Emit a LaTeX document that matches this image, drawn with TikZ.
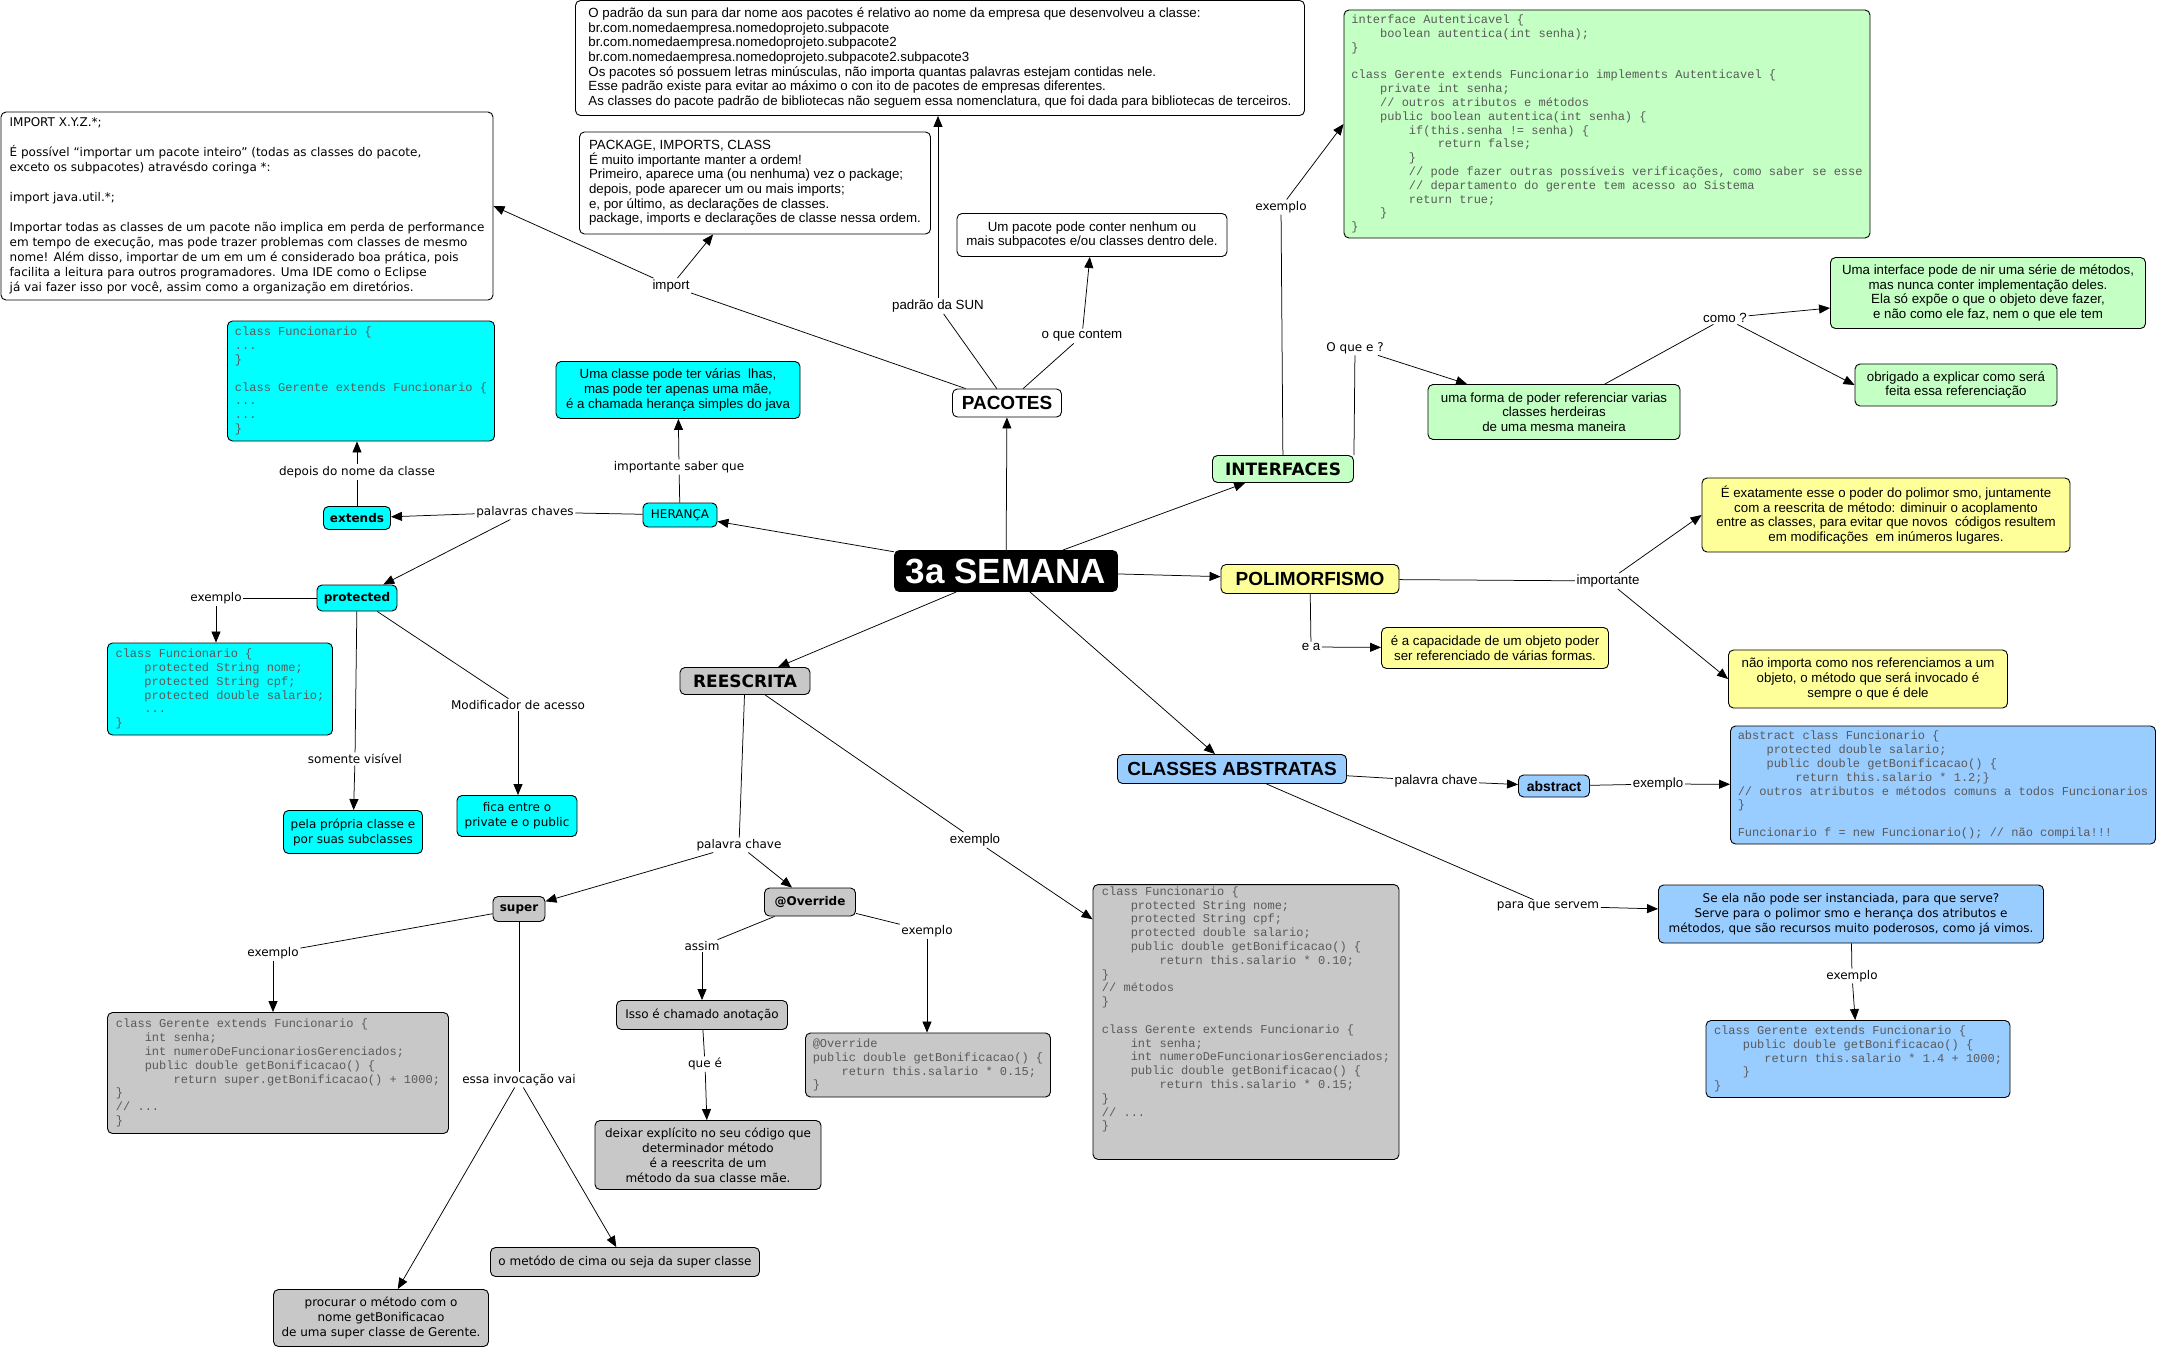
\documentclass[tikz,border=0pt]{standalone}
\usepackage{fontspec}
\setmainfont{DejaVu Sans}
\setmonofont{Liberation Mono}
\newfontfamily\narrowf{Liberation Sans}
\usepackage{tikz}
\usetikzlibrary{arrows.meta,positioning}
\definecolor{cyanbox}  {HTML}{00FFFF}
\definecolor{greenbox} {HTML}{C4FFC4}
\definecolor{yellowbox}{HTML}{FFFF99}
\definecolor{graybox}  {HTML}{C8C8C8}
\definecolor{bluebox}  {HTML}{99CCFF}
\definecolor{codeink}  {HTML}{5A5A5A}
\newcommand{\cind}[1]{\hspace*{#1\fontdimen2\font}}
\tikzset{
  % --- nodes
  sz/.style 2 args = {minimum width=#1pt, minimum height=#2pt},
  cmap/.style   = {draw=black, rounded corners=5pt, line width=0.9pt, align=center,
                   inner xsep=3pt, inner ysep=2pt, font=\fontsize{12}{15}\selectfont},
  nmap/.style   = {cmap, font=\narrowf\fontsize{13.3}{14.7}\selectfont},
  codebox/.style= {cmap, align=left, text=codeink, font=\ttfamily\fontsize{12}{13.8}\selectfont},
  topic/.style  = {cmap, font=\bfseries\fontsize{17}{20}\selectfont},
  ntopic/.style = {cmap, font=\narrowf\bfseries\fontsize{19}{22}\selectfont},
  kw/.style     = {cmap, font=\bfseries\fontsize{12}{15}\selectfont},
  fcyan/.style  = {fill=cyanbox},
  fgreen/.style = {fill=greenbox},
  fyellow/.style= {fill=yellowbox},
  fgray/.style  = {fill=graybox},
  fblue/.style  = {fill=bluebox},
  fwhite/.style = {fill=white},
  lbl/.style    = {inner sep=1.5pt, font=\fontsize{12}{15}\selectfont},
  nlbl/.style   = {inner sep=1.5pt, font=\narrowf\fontsize{13.3}{15}\selectfont},
  % --- edges
  ln/.style     = {draw=black, line width=0.75pt},
  arr/.style    = {ln, -{Triangle[length=11pt,width=9pt]}},
}

\begin{document}
\begin{tikzpicture}[x=1pt,y=-1pt]
  \path[use as bounding box, fill=white] (0,0) rectangle (2159,1351);

  % --- centre
  \node[cmap, sz={223}{41}, fill=black, text=white,
        font=\narrowf\bfseries\fontsize{35}{38}\selectfont] (semana) at (1006,571) {3a SEMANA};

  % --- pacotes
  \node[ntopic, fwhite, sz={109}{28}] (pacotes) at (1007,403) {PACOTES};
  \node[nmap, fwhite, sz={729}{115}, align=left] (sun) at (940,58)
    {O padrão da sun para dar nome aos pacotes é relativo ao nome da empresa que desenvolveu a classe:\\
     br.com.nomedaempresa.nomedoprojeto.subpacote\\
     br.com.nomedaempresa.nomedoprojeto.subpacote2\\
     br.com.nomedaempresa.nomedoprojeto.subpacote2.subpacote3\\
     Os pacotes só possuem letras minúsculas, não importa quantas palavras estejam contidas nele.\\
     Esse padrão existe para evitar ao máximo o con ito de pacotes de empresas diferentes.\\
     As classes do pacote padrão de bibliotecas não seguem essa nomenclatura, que foi dada para bibliotecas de terceiros.};
  \node[nmap, fwhite, sz={351}{102}, align=left] (package) at (755,183)
    {PACKAGE, IMPORTS, CLASS\\
     É muito importante manter a ordem!\\
     Primeiro, aparece uma (ou nenhuma) vez o package;\\
     depois, pode aparecer um ou mais imports;\\
     e, por último, as declarações de classes.\\
     package, imports e declarações de classe nessa ordem.};
  \node[nmap, fwhite, sz={270}{43}] (umpacote) at (1092,235)
    {Um pacote pode conter nenhum ou\\mais subpacotes e/ou classes dentro dele.};
  \node[cmap, fwhite, sz={492}{188}, align=left] (importbox) at (247,206)
    {IMPORT X.Y.Z.*;\\[15pt]
     É possível “importar um pacote inteiro” (todas as classes do pacote,\\
     exceto os subpacotes) atravésdo coringa *:\\[15pt]
     import java.util.*;\\[15pt]
     Importar todas as classes de um pacote não implica em perda de performance\\
     em tempo de execução, mas pode trazer problemas com classes de mesmo\\
     nome! Além disso, importar de um em um é considerado boa prática, pois\\
     facilita a leitura para outros programadores. Uma IDE como o Eclipse\\
     já vai fazer isso por você, assim como a organização em diretórios.};
  \node[nlbl] (limport) at (671,286) {import};
  \node[nlbl] (lsun) at (938,306) {padrão da SUN};
  \node[nlbl] (lcontem) at (1082,336) {o que contem};

  % --- heranca
  \node[cmap, fcyan, sz={74}{24}] (heranca) at (680,515) {HERANÇA};
  \node[nmap, fcyan, sz={244}{57}] (umaclasse) at (678,390)
    {Uma classe pode ter várias~\ lhas,\\mas pode ter apenas uma mãe,\\é a chamada herança simples do java};
  \node[kw, fcyan, sz={67}{23}] (extends) at (357,518) {extends};
  \node[codebox, fcyan, sz={267}{120}] (code1) at (361,381)
    {class Funcionario \{\\...\\\}\\[13.8pt]
     class Gerente extends Funcionario \{\\...\\...\\\}};
  \node[kw, fcyan, sz={80}{26}] (protected) at (357,598) {protected};
  \node[codebox, fcyan, sz={225}{92}] (code2) at (220,689)
    {class Funcionario \{\\
     \cind{4}protected String nome;\\
     \cind{4}protected String cpf;\\
     \cind{4}protected double salario;\\
     \cind{4}...\\\}};
  \node[cmap, fcyan, sz={139}{43}] (pela) at (353,832) {pela própria classe e\\por suas subclasses};
  \node[cmap, fcyan, sz={120}{41}] (fica) at (517,816) {fica entre o\\private e o public};
  \node[lbl] (lsaber) at (679,467) {importante saber que};
  \node[lbl] (lpalavras) at (525,512) {palavras chaves};
  \node[lbl] (ldepois) at (357,472) {depois do nome da classe};
  \node[lbl] (lex1) at (216,598) {exemplo};
  \node[lbl] (lsomente) at (355,759) {somente visível};
  \node[lbl] (lmodif) at (518,705) {Modificador de acesso};

  % --- reescrita
  \node[topic, fgray, sz={130}{27}] (reescrita) at (745,681) {REESCRITA};
  \node[kw, fgray, sz={52}{25}] (super) at (519,909) {super};
  \node[kw, fgray, sz={91}{28}] (override) at (810,902) {@Override};
  \node[codebox, fgray, sz={306}{270}] (bigcode) at (1246,1022)
    {class Funcionario \{\\
     \cind{4}protected String nome;\\
     \cind{4}protected String cpf;\\
     \cind{4}protected double salario;\\
     \cind{4}public double getBonificacao() \{\\
     \cind{8}return this.salario * 0.10;\\
     \}\\
     // métodos\\
     \}\\[13.8pt]
     class Gerente extends Funcionario \{\\
     \cind{4}int senha;\\
     \cind{4}int numeroDeFuncionariosGerenciados;\\
     \cind{4}public double getBonificacao() \{\\
     \cind{8}return this.salario * 0.15;\\
     \}\\
     // ...\\
     \}\\[13.8pt]};
  \node[codebox, fgray, sz={341}{121}] (supercode) at (278,1073)
    {class Gerente extends Funcionario \{\\
     \cind{4}int senha;\\
     \cind{4}int numeroDeFuncionariosGerenciados;\\
     \cind{4}public double getBonificacao() \{\\
     \cind{8}return super.getBonificacao() + 1000;\\
     \}\\
     // ...\\
     \}};
  \node[cmap, fgray, sz={215}{57}] (procurar) at (381,1318)
    {procurar o método com o\\nome getBonificacao\\de uma super classe de Gerente.};
  \node[cmap, fgray, sz={269}{29}] (metodo) at (625,1262) {o metódo de cima ou seja da super classe};
  \node[cmap, fgray, sz={171}{29}] (isso) at (702,1015) {Isso é chamado anotação};
  \node[cmap, fgray, sz={226}{69}] (deixar) at (708,1155)
    {deixar explícito no seu código que\\determinador método\\é a reescrita de um\\método da sua classe mãe.};
  \node[codebox, fgray, sz={245}{64}] (ovcode) at (928,1065)
    {@Override\\
     public double getBonificacao() \{\\
     \cind{4}return this.salario * 0.15;\\
     \}};
  \node[lbl] (lpalavra) at (739,845) {palavra chave};
  \node[nlbl] (lex2) at (975,840) {exemplo};
  \node[lbl] (lex3) at (273,953) {exemplo};
  \node[lbl] (lessa) at (519,1080) {essa invocação vai};
  \node[lbl] (lassim) at (702,946) {assim};
  \node[lbl] (lexov) at (927,931) {exemplo};
  \node[lbl] (lquee) at (705,1064) {que é};

  % --- interfaces
  \node[topic, fgreen, sz={141}{27}] (interfaces) at (1283,469) {INTERFACES};
  \node[codebox, fgreen, sz={526}{228}] (icode) at (1607,124)
    {interface Autenticavel \{\\
     \cind{4}boolean autentica(int senha);\\
     \}\\[13.8pt]
     class Gerente extends Funcionario implements Autenticavel \{\\
     \cind{4}private int senha;\\
     \cind{4}// outros atributos e métodos\\
     \cind{4}public boolean autentica(int senha) \{\\
     \cind{8}if(this.senha != senha) \{\\
     \cind{12}return false;\\
     \cind{8}\}\\
     \cind{8}// pode fazer outras possíveis verificações, como saber se esse\\
     \cind{8}// departamento do gerente tem acesso ao Sistema\\
     \cind{8}return true;\\
     \cind{4}\}\\
     \}};
  \node[nmap, fgreen, sz={252}{55}] (umaforma) at (1554,412)
    {uma forma de poder referenciar varias\\classes herdeiras\\de uma mesma maneira};
  \node[nmap, fgreen, sz={315}{71}] (umainterface) at (1988,293)
    {Uma interface pode de nir uma série de métodos,\\mas nunca conter implementação deles.\\
     Ela só expõe o que o objeto deve fazer,\\e não como ele faz, nem o que ele tem};
  \node[nmap, fgreen, sz={202}{42}] (obrigado) at (1956,385)
    {obrigado a explicar como será\\feita essa referenciação};
  \node[lbl] (lexi) at (1281,207) {exemplo};
  \node[lbl] (loque) at (1355,348) {O que e ?};
  \node[nlbl] (lcomo) at (1725,318) {como ?};

  % --- polimorfismo
  \node[ntopic, fyellow, sz={178}{29}] (polimorfismo) at (1310,579) {POLIMORFISMO};
  \node[nmap, fyellow, sz={227}{41}] (capacidade) at (1495,648)
    {é a capacidade de um objeto poder\\ser referenciado de várias formas.};
  \node[nmap, fyellow, sz={368}{74}] (exatamente) at (1886,515)
    {É exatamente esse o poder do polimor smo, juntamente\\com a reescrita de método: diminuir o acoplamento\\
     entre as classes, para evitar que novos~ códigos resultem\\em modificações~ em inúmeros lugares.};
  \node[nmap, fyellow, sz={279}{58}] (naoimporta) at (1868,679)
    {não importa como nos referenciamos a um\\objeto, o método que será invocado é\\sempre o que é dele};
  \node[nlbl] (lea) at (1311,647) {e a};
  \node[nlbl] (limportante) at (1608,581) {importante};

  % --- classes abstratas
  \node[ntopic, fblue, sz={229}{29}] (classes) at (1232,769) {CLASSES ABSTRATAS};
  \node[cmap, fblue, sz={71}{22}, font=\narrowf\bfseries\fontsize{14}{16}\selectfont] (abstract) at (1554,786) {abstract};
  \node[codebox, fblue, sz={425}{118}] (abscode) at (1943,785)
    {abstract class Funcionario \{\\
     \cind{4}protected double salario;\\
     \cind{4}public double getBonificacao() \{\\
     \cind{8}return this.salario * 1.2;\}\\
     // outros atributos e métodos comuns a todos Funcionarios\\
     \}\\[13.8pt]
     Funcionario f = new Funcionario(); // não compila!!!};
  \node[cmap, fblue, sz={385}{58}] (seela) at (1851,914)
    {Se ela não pode ser instanciada, para que serve?\\Serve para o polimor smo e herança dos atributos e\\
     métodos, que são recursos muito poderosos, como já vimos.};
  \node[codebox, fblue, sz={304}{77}] (gercode) at (1858,1059)
    {class Gerente extends Funcionario \{\\
     \cind{4}public double getBonificacao() \{\\
     \cind{7}return this.salario * 1.4 + 1000;\\
     \cind{4}\}\\
     \}};
  \node[nlbl] (lpalavrach) at (1436,781) {palavra chave};
  \node[nlbl] (lexabs) at (1658,784) {exemplo};
  \node[lbl] (lpara) at (1548,906) {para que servem};
  \node[lbl] (lexseela) at (1852,976) {exemplo};

  % --- connectors from the centre
  \draw[arr] (semana) -- (pacotes);
  \draw[arr] (semana) -- (heranca);
  \draw[arr] (semana) -- (reescrita);
  \draw[arr] (semana) -- (classes);
  \draw[arr] (semana) -- (polimorfismo);
  \draw[arr] (semana) -- (interfaces);

  % --- pacotes
  \draw[ln] (pacotes) -- (limport);
  \draw[arr] (limport) -- (importbox.east);
  \draw[arr] (limport) -- (package);
  \draw[ln] (pacotes) -- (lsun);
  \draw[arr] (lsun) -- (lsun |- sun.south);
  \draw[ln] (pacotes) -- (lcontem);
  \draw[arr] (lcontem) -- (umpacote);

  % --- heranca
  \draw[ln] (heranca) -- (lsaber);
  \draw[arr] (lsaber) -- (umaclasse);
  \draw[ln] (heranca) -- (lpalavras);
  \draw[arr] (lpalavras) -- (extends);
  \draw[arr] (lpalavras) -- (protected);
  \draw[ln] (extends) -- (ldepois);
  \draw[arr] (ldepois) -- (ldepois |- code1.south);
  \draw[ln] (protected) -- (lex1);
  \draw[arr] (lex1) -- (lex1 |- code2.north);
  \draw[ln] (protected) -- (lsomente);
  \draw[arr] (lsomente) -- (pela);
  \draw[ln] (protected) -- (lmodif);
  \draw[arr] (lmodif) -- (lmodif |- fica.north);

  % --- reescrita
  \draw[ln] (reescrita) -- (lpalavra);
  \draw[arr] (lpalavra) -- (super);
  \draw[arr] (lpalavra) -- (override);
  \draw[ln] (reescrita) -- (lex2);
  \draw[arr] (lex2) -- (bigcode);
  \draw[ln] (super) -- (lex3);
  \draw[arr] (lex3) -- (lex3 |- supercode.north);
  \draw[ln] (super) -- (lessa);
  \draw[arr] (lessa) -- (procurar);
  \draw[arr] (lessa) -- (metodo);
  \draw[ln] (override) -- (lassim);
  \draw[arr] (lassim) -- (isso);
  \draw[ln] (override) -- (lexov);
  \draw[arr] (lexov) -- (lexov |- ovcode.north);
  \draw[ln] (isso) -- (lquee);
  \draw[arr] (lquee) -- (deixar);

  % --- interfaces
  \draw[ln] (interfaces) -- (lexi);
  \draw[arr] (lexi) -- (icode.west);
  \draw[ln] (interfaces.north east) -- (loque);
  \draw[arr] (loque) -- (umaforma);
  \draw[ln] (umaforma) -- (lcomo);
  \draw[arr] (lcomo) -- (umainterface);
  \draw[arr] (lcomo) -- (obrigado.west);

  % --- polimorfismo
  \draw[ln] (polimorfismo) -- (lea);
  \draw[arr] (lea) -- (capacidade);
  \draw[ln] (polimorfismo) -- (limportante);
  \draw[arr] (limportante) -- (exatamente.west);
  \draw[arr] (limportante) -- (naoimporta.west);

  % --- classes abstratas
  \draw[ln] (classes) -- (lpalavrach);
  \draw[arr] (lpalavrach) -- (abstract);
  \draw[ln] (abstract) -- (lexabs);
  \draw[arr] (lexabs) -- (abscode);
  \draw[ln] (classes) -- (lpara);
  \draw[arr] (lpara) -- (seela);
  \draw[ln] (seela) -- (lexseela);
  \draw[arr] (lexseela) -- (gercode);
\end{tikzpicture}
\end{document}
